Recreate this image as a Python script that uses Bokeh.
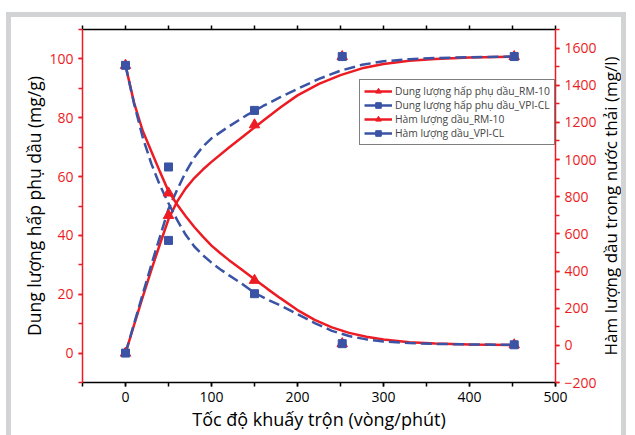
from bokeh.plotting import figure
from bokeh.layouts import row
from bokeh.models import Range1d, LinearAxis, SingleIntervalTicker, FixedTicker, Legend, LegendItem, Title
from bokeh.embed import file_html
from bokeh.resources import INLINE

# ---- data ----
speed = [0, 50, 150, 252, 452]
cap_rm10 = [0, 46.8, 77.6, 100.8, 100.8]
cap_vpicl = [0, 38.3, 82.5, 100.8, 100.8]
oil_rm10 = [1507, 820, 350, 9, 3]
oil_vpicl = [1507, 960, 278, 9, 3]

fit_x_cap = [0, 10, 20, 30, 40, 50, 60, 70, 80, 90, 100, 120, 140, 160, 180, 200, 225, 250, 275, 300, 330, 360, 400, 452]
fit_cap_rm10 = [0, 9.6, 19, 28.2, 37, 45.5, 51.5, 56, 59.5, 62.4, 65, 69.8, 74.4, 79, 83.5, 87.6, 91.5, 94.5, 96.8, 98.3, 99.4, 100, 100.5, 100.8]
fit_cap_vpicl = [0, 10, 20, 30, 39.5, 49, 55.5, 61.5, 66.5, 70.2, 73, 77, 80.7, 84, 87, 89.8, 93.2, 96, 98, 99.2, 99.9, 100.3, 100.6, 100.8]

fit_x_oil = [0, 10, 20, 30, 40, 50, 60, 70, 80, 90, 100, 110, 120, 135, 150, 165, 180, 200, 220, 240, 260, 280, 300, 330, 360, 400, 452]
fit_oil_rm10 = [1507, 1305, 1155, 1045, 935, 830, 758, 695, 637, 585, 537, 497, 460, 408, 356, 304, 254, 190, 137, 97, 67, 46, 31, 17, 10, 5, 2]
fit_oil_vpicl = [1507, 1300, 1120, 978, 862, 765, 675, 595, 532, 485, 445, 410, 378, 333, 283, 247, 215, 168, 120, 78, 50, 32, 21, 12, 8, 5, 3]

top_ticks = [-50, 0, 50, 100, 150, 200, 250, 300, 350, 400, 450, 500]

labels = ["Dung lượng hấp phụ dầu_RM-10", "Dung lượng hấp phụ dầu_VPI-CL",
          "Hàm lượng dầu_RM-10", "Hàm lượng dầu_VPI-CL"]
right_title = "Hàm lượng dầu trong nước thải (mg/l)"

RED = "#ED1C24"
BLUE = "#3A53A4"
FONT = "Open Sans"

p = figure(width=588, height=418, x_range=Range1d(-50, 500), y_range=Range1d(-10, 110),
           output_backend="svg", toolbar_location=None,
           min_border_left=71, min_border_right=42, min_border_top=12, min_border_bottom=53,
           x_axis_location=None, y_axis_location=None)
p.extra_y_ranges = {"oil": Range1d(-200, 1700)}
p.grid.visible = False
p.outline_line_color = None
p.background_fill_color = "white"
p.border_fill_color = "white"

def style_axis(ax, color, label_color):
    ax.axis_line_color = color
    ax.axis_line_width = 1.5
    ax.major_tick_line_color = color
    ax.minor_tick_line_color = color
    ax.major_tick_line_width = 1.5
    ax.minor_tick_line_width = 1.5
    ax.major_tick_in = 0
    ax.major_tick_out = 4
    ax.minor_tick_in = 0
    ax.minor_tick_out = 4
    ax.major_label_text_color = color
    ax.major_label_text_font = FONT
    ax.major_label_text_font_size = "14px"
    ax.axis_label_text_color = label_color
    ax.axis_label_text_font = FONT
    ax.axis_label_text_font_size = "18px"
    ax.axis_label_text_font_style = "normal"

xb = LinearAxis(ticker=SingleIntervalTicker(interval=100, num_minor_ticks=2),
                axis_label="Tốc độ khuấy trộn (vòng/phút)")
style_axis(xb, "black", "black")
xb.major_label_standoff = 5
xb.axis_label_standoff = 2
p.add_layout(xb, "below")

xt = LinearAxis(ticker=FixedTicker(ticks=[], minor_ticks=top_ticks))
style_axis(xt, "black", "black")
xt.major_label_standoff = 0
p.add_layout(xt, "above")

yl = LinearAxis(ticker=SingleIntervalTicker(interval=20, num_minor_ticks=2),
                axis_label="Dung lượng hấp phụ dầu (mg/g)")
style_axis(yl, RED, "black")
yl.major_label_standoff = 5
yl.axis_label_standoff = 0
yl.axis_label_text_font_size = "17.5px"
p.add_layout(yl, "left")

yr = LinearAxis(y_range_name="oil", ticker=SingleIntervalTicker(interval=200, num_minor_ticks=2))
style_axis(yr, RED, "black")
yr.major_label_standoff = 5
p.add_layout(yr, "right")

# fitted curves
p.line(fit_x_cap, fit_cap_rm10, line_color=RED, line_width=2.5)
p.line(fit_x_cap, fit_cap_vpicl, line_color=BLUE, line_width=2.5, line_dash="11 5")
p.line(fit_x_oil, fit_oil_rm10, line_color=RED, line_width=2.5, y_range_name="oil")
p.line(fit_x_oil, fit_oil_vpicl, line_color=BLUE, line_width=2.5, line_dash="11 5", y_range_name="oil")

# markers
s1 = p.scatter(speed, cap_rm10, marker="triangle", size=10.5, fill_color=RED, line_color=RED)
s3 = p.scatter(speed, oil_rm10, marker="triangle", size=10.5, fill_color=RED, line_color=RED, y_range_name="oil")
s2 = p.scatter(speed, cap_vpicl, marker="square", size=8, fill_color=BLUE, line_color=BLUE)
s4 = p.scatter(speed, oil_vpicl, marker="square", size=8, fill_color=BLUE, line_color=BLUE, y_range_name="oil")

# legend: solid line proxies (single point, draws nothing in the plot) + real markers
proxies = [
    p.line(speed[:1], cap_rm10[:1], line_color=RED, line_width=2.5),
    p.line(speed[:1], cap_vpicl[:1], line_color=BLUE, line_width=2.5),
    p.line(speed[:1], oil_rm10[:1], line_color=RED, line_width=2.5, y_range_name="oil"),
    p.line(speed[:1], oil_vpicl[:1], line_color=BLUE, line_width=2.5, y_range_name="oil"),
]
items = [LegendItem(label=lab, renderers=[lr, sr])
         for lab, lr, sr in zip(labels, proxies, [s1, s2, s3, s4])]

leg = Legend(items=items, location=(277, 237))
leg.border_line_color = "black"
leg.border_line_width = 1
leg.background_fill_color = "white"
leg.background_fill_alpha = 1
leg.padding = 4
leg.spacing = 0
leg.margin = 0
leg.glyph_width = 28
leg.glyph_height = 14
leg.label_height = 14
leg.label_standoff = 3
leg.label_text_font = FONT
leg.label_text_font_size = "10.3px"
p.add_layout(leg, "center")

# narrow companion panel that carries the right-hand axis title (reads bottom-to-top)
p2 = figure(width=25, height=418, output_backend="svg", toolbar_location=None,
            min_border_left=0, min_border_right=0, min_border_top=12, min_border_bottom=53,
            x_axis_location=None, y_axis_location=None)
p2.grid.visible = False
p2.outline_line_color = None
p2.border_fill_alpha = 0
p2.background_fill_alpha = 0
p2.margin = (0, 0, 0, -3)
p2.add_layout(Title(text=right_title, align="center", text_font=FONT, text_font_size="17px",
                    text_font_style="normal", text_color="black", standoff=0, offset=0), "left")

layout = row(p, p2, margin=(17, 0, 0, 11), styles={"box-shadow": "0 0 0 5px #D1D3D4"})

open("out.html", "w").write(file_html(layout, INLINE))
